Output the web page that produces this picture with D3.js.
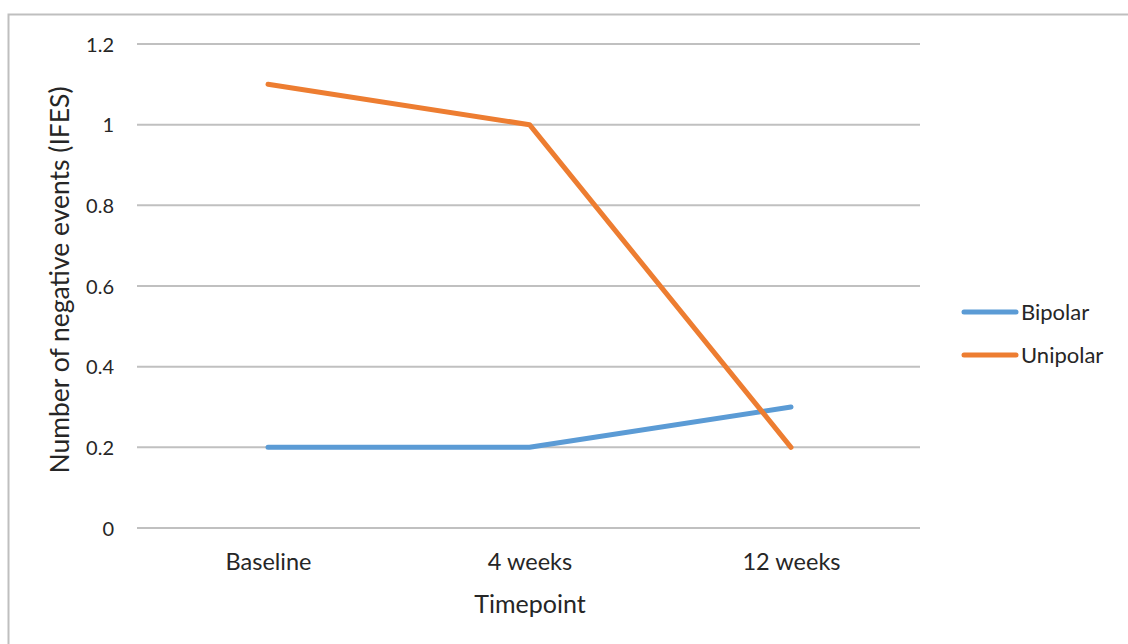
<!DOCTYPE html>
<html><head><meta charset="utf-8">
<script src="https://cdn.jsdelivr.net/npm/d3@7"></script>
<style>body{margin:0;background:#fff}text{font-family:Lato,"Open Sans",sans-serif;fill:#262626}</style>
</head><body><svg id="c" width="1128" height="644"></svg>
<script>
const categories = ["Baseline","4 weeks","12 weeks"];
const bipolar = [0.2, 0.2, 0.3];
const unipolar = [1.1, 1.0, 0.2];
const yTicks = [0,0.2,0.4,0.6,0.8,1,1.2];
const seriesNames = ["Bipolar","Unipolar"];
const colors = ["#5B9BD5","#ED7D31"];

const svg = d3.select("#c");
svg.append("rect").attr("x",8.5).attr("y",14.5).attr("width",1200).attr("height",700)
  .attr("fill","none").attr("stroke","#bfbfbf").attr("stroke-width",2);

const x = d3.scalePoint().domain(categories).range([268,791]);
const y = d3.scaleLinear().domain([0,1.2]).range([528,44]);

const g = svg.append("g");
g.selectAll("line.grid").data(yTicks).join("line")
  .attr("x1",137).attr("x2",920).attr("y1",d=>y(d)).attr("y2",d=>y(d))
  .attr("stroke","#c0c0c0").attr("stroke-width",2);

const yAxis = d3.axisLeft(y).tickValues(yTicks).tickFormat(d=>String(d)).tickSize(0).tickPadding(0);
const ya = svg.append("g").attr("transform","translate(114,0)").call(yAxis);
ya.select(".domain").remove();
ya.selectAll("text").style("font-size","20px").attr("dy","0.35em").attr("fill","#262626");

const xAxis = d3.axisBottom(x).tickSize(0).tickPadding(0);
const xa = svg.append("g").attr("transform","translate(0,562)").call(xAxis);
xa.select(".domain").remove();
xa.selectAll("text").style("font-size","23.5px").attr("dy","0.35em").attr("fill","#262626");

const line = d3.line().x((d,i)=>x(categories[i])).y(d=>y(d));
[bipolar, unipolar].forEach((s,k)=>{
  svg.append("path").attr("d",line(s)).attr("fill","none").attr("stroke",colors[k])
    .attr("stroke-width",5).attr("stroke-linecap","round").attr("stroke-linejoin","round");
});

svg.append("text").attr("x",530).attr("y",604).attr("text-anchor","middle").attr("dy","0.35em")
  .style("font-size","25px").text("Timepoint");
svg.append("text").attr("transform","translate(60,280) rotate(-90)").attr("text-anchor","middle").attr("dy","0.35em")
  .style("font-size","26.5px").text("Number of negative events (IFES)");

const leg = svg.append("g");
seriesNames.forEach((n,k)=>{
  const yy = 312 + k*43;
  leg.append("line").attr("x1",964).attr("x2",1016).attr("y1",yy).attr("y2",yy)
    .attr("stroke",colors[k]).attr("stroke-width",5).attr("stroke-linecap","round");
  leg.append("text").attr("x",1021).attr("y",yy).attr("dy","0.35em").style("font-size","22px").text(n);
});
</script></body></html>
